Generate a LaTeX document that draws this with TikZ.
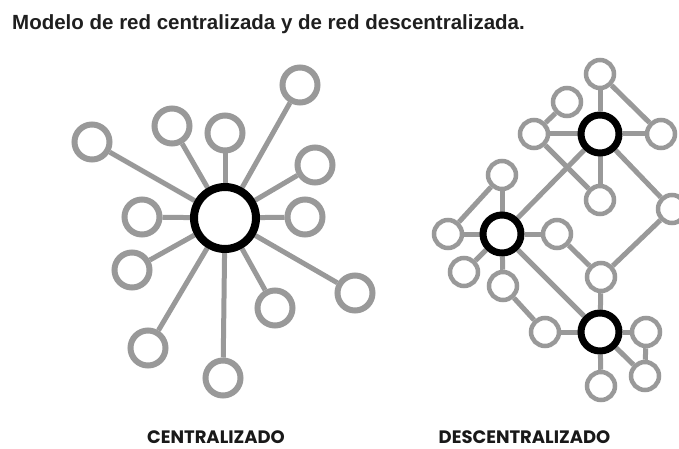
\documentclass[tikz,border=0pt]{standalone}
\usepackage{fontspec}
\setmainfont{Liberation Sans}
\newfontfamily\labelfont{Poppins}
\definecolor{netgray}{RGB}{153,153,153}
\pgfdeclarelayer{bg}
\pgfsetlayers{bg,main}
\tikzset{
  edge/.style={draw=netgray, line width=5pt},
  hubbig/.style={circle, draw=black, fill=white, line width=8pt, minimum size=62pt, inner sep=0pt},
  satbig/.style={circle, draw=netgray, fill=white, line width=6pt, minimum size=35pt, inner sep=0pt},
  hubsmall/.style={circle, draw=black, fill=white, line width=7pt, minimum size=38pt, inner sep=0pt},
  satsmall/.style={circle, draw=netgray, fill=white, line width=4.5pt, minimum size=28pt, inner sep=0pt},
  caption/.style={font=\labelfont\bfseries\fontsize{18}{20}\selectfont, text=black!90, inner sep=0pt, anchor=base},
}
\begin{document}
\begin{tikzpicture}[x=1pt,y=-1pt]
\begin{pgfonlayer}{bg}
\useasboundingbox[fill=white] (0,0) rectangle (679,449);
\end{pgfonlayer}
\clip (0,0) rectangle (679,449);
% title
\node[anchor=base west, inner sep=0pt, font=\bfseries\fontsize{20.5}{23}\selectfont, text=black!88] (title) at (12,30) {Modelo de red centralizada y de red descentralizada.};
% ---------- centralized ----------
\node[hubbig] (c) at (225,218) {};
\foreach \n/\x/\y in {s1/92/142, s2/172/126, s3/225/133, s4/300/85, s5/315/165, s6/305/217, s7/355/293, s8/275/308, s9/223/378, s10/148/348, s11/132/270, s12/142/217}{
  \node[satbig] (\n) at (\x,\y) {};
}
\begin{pgfonlayer}{bg}
\foreach \n in {s1,s2,s3,s4,s5,s6,s7,s8,s9,s10,s11,s12}{
  \draw[edge] (c) -- (\n);
}
\end{pgfonlayer}
% ---------- decentralized ----------
\node[hubsmall] (A) at (600,134) {};
\node[hubsmall] (B) at (502,234) {};
\node[hubsmall] (C) at (600,332) {};
\foreach \n/\x/\y in {g1/600/74, g2/567/102, g3/534/134, g4/661/134, g5/600/200, g6/672/209, g7/502/175, g8/448/234, g9/557/234, g10/464/272, g11/503/286, g12/601/277, g13/545/332, g14/646/332, g15/645/376, g16/601/386}{
  \node[satsmall] (\n) at (\x,\y) {};
}
\begin{pgfonlayer}{bg}
\foreach \a/\b in {g1/A, g1/g4, g2/g3, g3/A, A/g4, g3/g5, A/g5, A/B, A/g6, g6/g12, g7/B, g7/g8, g8/B, B/g9, g9/g12, g10/B, B/g11, B/C, g11/g13, g13/C, g12/C, C/g14, C/g15, g14/g15, C/g16}{
  \draw[edge] (\a) -- (\b);
}
\end{pgfonlayer}
% captions
\node[caption] (lc) at (216,443.5) {CENTRALIZADO};
\node[caption] (ld) at (524.5,443.5) {DESCENTRALIZADO};
\end{tikzpicture}
\end{document}
